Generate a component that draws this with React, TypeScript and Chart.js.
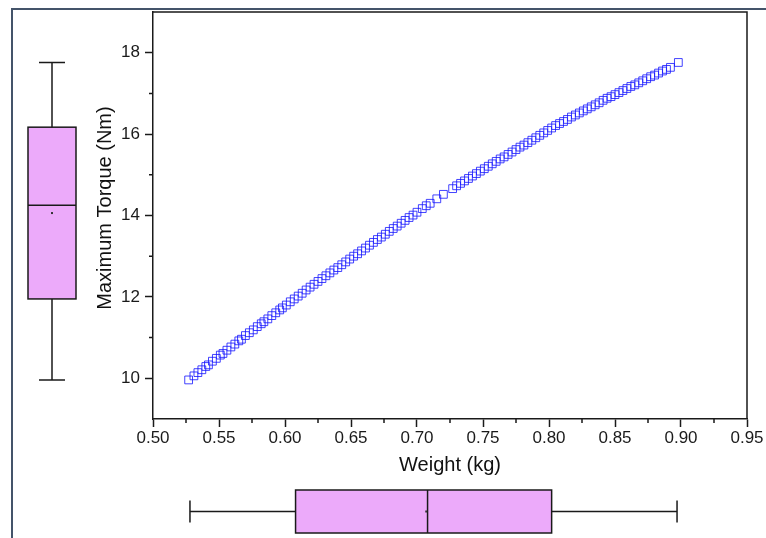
import React, { useEffect, useRef } from "react";
import { Chart, registerables } from "chart.js";

Chart.register(...registerables);

// ---- data ----
const weightKg = [
  0.527, 0.531, 0.534, 0.537, 0.540, 0.542, 0.545, 0.548, 0.551, 0.553,
  0.556, 0.559, 0.562, 0.565, 0.567, 0.570, 0.573, 0.576, 0.579, 0.582,
  0.584, 0.587, 0.590, 0.593, 0.596, 0.598, 0.601, 0.604, 0.607, 0.610,
  0.613, 0.616, 0.619, 0.622, 0.625, 0.628, 0.631, 0.634, 0.637, 0.640,
  0.643, 0.646, 0.649, 0.652, 0.655, 0.658, 0.661, 0.664, 0.667, 0.670,
  0.673, 0.676, 0.679, 0.682, 0.685, 0.688, 0.691, 0.694, 0.697, 0.700,
  0.704, 0.707, 0.710, 0.715, 0.720, 0.727, 0.730, 0.733, 0.736, 0.739,
  0.742, 0.745, 0.748, 0.751, 0.754, 0.757, 0.760, 0.763, 0.766, 0.769,
  0.772, 0.775, 0.778, 0.781, 0.784, 0.787, 0.790, 0.793, 0.796, 0.799,
  0.802, 0.805, 0.808, 0.811, 0.814, 0.817, 0.820, 0.823, 0.826, 0.829,
  0.832, 0.835, 0.838, 0.841, 0.844, 0.847, 0.850, 0.853, 0.856, 0.859,
  0.862, 0.865, 0.868, 0.871, 0.874, 0.877, 0.880, 0.883, 0.886, 0.889,
  0.892, 0.898,
];
const torqueNm = [
  9.96, 10.06, 10.14, 10.21, 10.29, 10.33, 10.42, 10.49, 10.57, 10.61,
  10.69, 10.77, 10.84, 10.92, 10.96, 11.05, 11.12, 11.19, 11.27, 11.34,
  11.39, 11.46, 11.54, 11.61, 11.68, 11.73, 11.80, 11.88, 11.95, 12.02,
  12.09, 12.17, 12.24, 12.31, 12.38, 12.45, 12.52, 12.59, 12.66, 12.72,
  12.79, 12.86, 12.93, 13.00, 13.06, 13.13, 13.20, 13.27, 13.34, 13.41,
  13.47, 13.54, 13.61, 13.68, 13.74, 13.81, 13.88, 13.95, 14.01, 14.08,
  14.17, 14.24, 14.30, 14.41, 14.52, 14.66, 14.73, 14.79, 14.85, 14.91,
  14.97, 15.03, 15.09, 15.15, 15.21, 15.27, 15.33, 15.39, 15.44, 15.50,
  15.56, 15.62, 15.68, 15.73, 15.79, 15.85, 15.91, 15.97, 16.03, 16.09,
  16.15, 16.21, 16.26, 16.31, 16.36, 16.42, 16.47, 16.52, 16.57, 16.62,
  16.67, 16.72, 16.77, 16.83, 16.88, 16.92, 16.97, 17.02, 17.07, 17.12,
  17.17, 17.21, 17.26, 17.31, 17.36, 17.41, 17.45, 17.50, 17.55, 17.59,
  17.64, 17.76,
];

// box plot stats: [min, q1, median, q3, max]
const torqueBox = [9.96, 11.95, 14.25, 16.17, 17.76];
const torqueMean = [14.06];
const weightBox = [0.528, 0.608, 0.708, 0.802, 0.897];
const weightMean = [0.707];

const xTickLabels = ["0.50", "0.55", "0.60", "0.65", "0.70", "0.75", "0.80", "0.85", "0.90", "0.95"];
const yTickLabels = ["10", "12", "14", "16", "18"];

const xTitle = "Weight (kg)";
const yTitle = "Maximum Torque (Nm)";

// ---- styles ----
const FONT = "'Liberation Sans', Arial, sans-serif";
const BOX_FILL = "rgb(236,170,250)";
const AXIS = "#1a1a1a";

const isMajorX = (v: number) => xTickLabels.includes(v.toFixed(2));
const isMajorY = (v: number) => yTickLabels.includes(String(Math.round(v * 1000) / 1000));

const decorPlugin = {
  id: "decor",
  afterDraw(chart: any) {
    const { ctx, chartArea: a } = chart;
    const x = chart.scales.x;
    const y = chart.scales.y;
    ctx.save();
    ctx.strokeStyle = AXIS;
    ctx.lineWidth = 1.5;
    // top & right frame
    ctx.beginPath();
    ctx.moveTo(a.left, a.top);
    ctx.lineTo(a.right, a.top);
    ctx.lineTo(a.right, a.bottom);
    ctx.stroke();

    // minor ticks
    ctx.lineWidth = 1.5;
    ctx.beginPath();
    x.ticks.forEach((t: any) => {
      if (!isMajorX(t.value) && t.value > x.min + 1e-6 && t.value < x.max - 1e-6) {
        const px = x.getPixelForValue(t.value);
        ctx.moveTo(px, a.bottom);
        ctx.lineTo(px, a.bottom + 4);
      }
    });
    y.ticks.forEach((t: any) => {
      if (!isMajorY(t.value) && t.value > y.min + 1e-6 && t.value < y.max - 1e-6) {
        const py = y.getPixelForValue(t.value);
        ctx.moveTo(a.left, py);
        ctx.lineTo(a.left - 4, py);
      }
    });
    ctx.stroke();

    // titles
    ctx.fillStyle = "#111";
    ctx.font = `20px ${FONT}`;
    ctx.textAlign = "center";
    ctx.textBaseline = "middle";
    ctx.fillText(xTitle, (a.left + a.right) / 2, 465);
    ctx.save();
    ctx.translate(105, 208);
    ctx.rotate(-Math.PI / 2);
    ctx.fillText(yTitle, 0, 0);
    ctx.restore();

    // left (vertical) box plot on y scale
    ctx.lineWidth = 1.5;
    ctx.strokeStyle = AXIS;
    {
      const cx = 52, half = 24, cap = 13;
      const p = torqueBox.map((v) => y.getPixelForValue(v));
      ctx.fillStyle = BOX_FILL;
      ctx.fillRect(cx - half, p[3], 2 * half, p[1] - p[3]);
      ctx.strokeRect(cx - half, p[3], 2 * half, p[1] - p[3]);
      ctx.beginPath();
      ctx.moveTo(cx, p[3]); ctx.lineTo(cx, p[4]);
      ctx.moveTo(cx - cap, p[4]); ctx.lineTo(cx + cap, p[4]);
      ctx.moveTo(cx, p[1]); ctx.lineTo(cx, p[0]);
      ctx.moveTo(cx - cap, p[0]); ctx.lineTo(cx + cap, p[0]);
      ctx.moveTo(cx - half, p[2]); ctx.lineTo(cx + half, p[2]);
      ctx.stroke();
      const pm = y.getPixelForValue(torqueMean[0]);
      ctx.fillStyle = "#333";
      ctx.fillRect(cx - 1, pm - 1, 2, 2);
    }
    // bottom (horizontal) box plot on x scale
    {
      const cy = 511.5, half = 21.5, cap = 11;
      const p = weightBox.map((v) => x.getPixelForValue(v));
      ctx.fillStyle = BOX_FILL;
      ctx.fillRect(p[1], cy - half, p[3] - p[1], 2 * half);
      ctx.strokeRect(p[1], cy - half, p[3] - p[1], 2 * half);
      ctx.beginPath();
      ctx.moveTo(p[3], cy); ctx.lineTo(p[4], cy);
      ctx.moveTo(p[4], cy - cap); ctx.lineTo(p[4], cy + cap);
      ctx.moveTo(p[1], cy); ctx.lineTo(p[0], cy);
      ctx.moveTo(p[0], cy - cap); ctx.lineTo(p[0], cy + cap);
      ctx.moveTo(p[2], cy - half); ctx.lineTo(p[2], cy + half);
      ctx.stroke();
      const pm = x.getPixelForValue(weightMean[0]);
      ctx.fillStyle = "#333";
      ctx.fillRect(pm - 1, cy - 1, 2, 2);
    }
    ctx.restore();
  },
};

export default function App() {
  const ref = useRef<HTMLCanvasElement | null>(null);

  useEffect(() => {
    if (!ref.current) return;
    const chart = new Chart(ref.current, {
      type: "scatter",
      data: {
        datasets: [
          {
            label: "Torque",
            data: weightKg.map((w, i) => ({ x: w, y: torqueNm[i] })),
            pointStyle: "rect",
            pointRadius: 5.5,
            pointHoverRadius: 5.5,
            borderColor: "rgba(20,20,255,0.8)",
            backgroundColor: "rgba(0,0,0,0)",
            borderWidth: 1,
          },
        ],
      },
      options: {
        responsive: false,
        animation: false,
        events: [],
        layout: { padding: { left: 0, top: 12, right: 19, bottom: 0 } },
        plugins: { legend: { display: false }, tooltip: { enabled: false } },
        scales: {
          x: {
            type: "linear",
            min: 0.5,
            max: 0.95,
            border: { display: true, color: AXIS, width: 1.5 },
            grid: {
              display: true,
              drawOnChartArea: false,
              drawTicks: true,
              tickLength: 8,
              tickWidth: 1.5,
              tickColor: (c: any) => (c.tick && isMajorX(c.tick.value) ? AXIS : "rgba(0,0,0,0)"),
            },
            ticks: {
              stepSize: 0.025,
              autoSkip: false,
              maxRotation: 0,
              padding: 1,
              color: "#1a1a1a",
              font: { family: FONT, size: 17 },
              callback: (v: any) => (isMajorX(Number(v)) ? Number(v).toFixed(2) : ""),
            },
            afterFit: (s: any) => {
              s.height = 538 - 419;
              s.paddingLeft = 0;
              s.paddingRight = 0;
            },
          },
          y: {
            type: "linear",
            min: 9,
            max: 19,
            border: { display: true, color: AXIS, width: 1.5 },
            grid: {
              display: true,
              drawOnChartArea: false,
              drawTicks: true,
              tickLength: 8,
              tickWidth: 1.5,
              tickColor: (c: any) => (c.tick && isMajorY(c.tick.value) ? AXIS : "rgba(0,0,0,0)"),
            },
            ticks: {
              stepSize: 1,
              autoSkip: false,
              padding: 5,
              color: "#1a1a1a",
              font: { family: FONT, size: 17 },
              callback: (v: any) => (isMajorY(Number(v)) ? String(v) : ""),
            },
            afterFit: (s: any) => {
              s.width = 153;
              s.paddingTop = 0;
              s.paddingBottom = 0;
            },
          },
        },
      },
      plugins: [decorPlugin],
    });
    return () => chart.destroy();
  }, []);

  return (
    <div style={{ position: "fixed", left: 0, top: 0, width: 766, height: 538, background: "#fff", overflow: "hidden" }}>
      <div
        style={{
          position: "absolute",
          left: 11,
          top: 8,
          width: 800,
          height: 600,
          borderTop: "2px solid #44546A",
          borderLeft: "2px solid #44546A",
        }}
      />
      <canvas ref={ref} width={766} height={538} style={{ position: "absolute", left: 0, top: 0, width: 766, height: 538 }} />
    </div>
  );
}
